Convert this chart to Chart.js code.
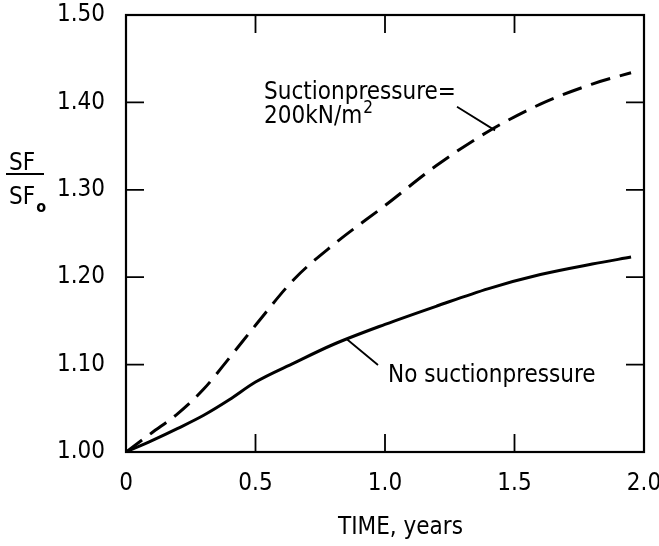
<!DOCTYPE html>
<html>
<head>
<meta charset="utf-8">
<script src="https://cdn.jsdelivr.net/npm/chart.js@4.4.1/dist/chart.umd.min.js"></script>
<style>
  html, body { margin: 0; padding: 0; background: #fff; }
  #wrap { width: 659px; height: 546px; }
</style>
</head>
<body>
<div id="wrap"><canvas id="sfChart"></canvas></div>
<script>
// time in years, and SF/SF0 for the two cases
const years = [0, 0.1, 0.2, 0.3, 0.4, 0.5, 0.65, 0.8, 1.0, 1.2, 1.4, 1.6, 1.8, 1.95];
const withSuction = [1.00, 1.022, 1.044, 1.072, 1.108, 1.145, 1.198, 1.237, 1.282, 1.328, 1.367, 1.398, 1.421, 1.434];
const noSuction = [1.00, 1.013, 1.027, 1.042, 1.060, 1.080, 1.102, 1.123, 1.146, 1.167, 1.187, 1.203, 1.215, 1.223];
const xTicks = [0, 0.5, 1.0, 1.5, 2.0];
const yTicks = [1.00, 1.10, 1.20, 1.30, 1.40, 1.50];

const FONT = "'DejaVu Sans Condensed', 'DejaVu Sans', sans-serif";
const FS = 24;
const pts = (ys) => years.map((t, i) => ({ x: t, y: ys[i] }));

// box, inward ticks, labels and leader lines
const decor = {
    id: 'decor',
    afterDatasetsDraw(chart) {
        const { ctx, chartArea: a, scales: { x, y } } = chart;
        ctx.save();
        ctx.strokeStyle = '#000';
        ctx.lineWidth = 2.2;
        ctx.strokeRect(a.left, a.top, a.right - a.left, a.bottom - a.top);
        ctx.lineWidth = 1.8;
        ctx.beginPath();
        xTicks.slice(1, -1).forEach(v => {
            const px = x.getPixelForValue(v);
            ctx.moveTo(px, a.bottom); ctx.lineTo(px, a.bottom - 18);
            ctx.moveTo(px, a.top); ctx.lineTo(px, a.top + 18);
        });
        yTicks.slice(1, -1).forEach(v => {
            const py = y.getPixelForValue(v);
            ctx.moveTo(a.left, py); ctx.lineTo(a.left + 18, py);
            ctx.moveTo(a.right, py); ctx.lineTo(a.right - 18, py);
        });
        // leader lines
        ctx.moveTo(x.getPixelForValue(1.278), y.getPixelForValue(1.395));
        ctx.lineTo(x.getPixelForValue(1.425), y.getPixelForValue(1.368));
        ctx.moveTo(x.getPixelForValue(0.853), y.getPixelForValue(1.129));
        ctx.lineTo(x.getPixelForValue(0.973), y.getPixelForValue(1.0995));
        ctx.stroke();

        ctx.fillStyle = '#000';
        ctx.textBaseline = 'alphabetic';
        ctx.textAlign = 'left';
        ctx.font = FS + 'px ' + FONT;
        const lx = x.getPixelForValue(0.533);
        ctx.fillText('Suctionpressure=', lx, y.getPixelForValue(1.4037));
        const l2 = y.getPixelForValue(1.3765);
        ctx.fillText('200kN/m', lx, l2);
        const w = ctx.measureText('200kN/m').width;
        ctx.font = '17px ' + FONT;
        ctx.fillText('2', lx + w + 1, l2 - 10);
        ctx.font = FS + 'px ' + FONT;
        ctx.fillText('No suctionpressure', x.getPixelForValue(1.012), y.getPixelForValue(1.080));

        // axis titles
        ctx.fillText('TIME, years', 338, 534);
        ctx.fillText('SF', 9, 170);
        ctx.fillText('SF', 9, 204);
        const sw = ctx.measureText('SF').width;
        ctx.font = 'bold 16px ' + FONT;
        ctx.fillText('o', 10 + sw, 212);
        ctx.lineWidth = 2;
        ctx.beginPath();
        ctx.moveTo(6, 174); ctx.lineTo(44, 174);
        ctx.stroke();
        ctx.restore();
    }
};

new Chart(document.getElementById('sfChart').getContext('2d'), {
    type: 'line',
    data: {
        datasets: [
            { label: 'Suctionpressure = 200kN/m2', data: pts(withSuction), borderColor: '#000', borderWidth: 3, borderDash: [20, 10], pointRadius: 0, fill: false, cubicInterpolationMode: 'monotone' },
            { label: 'No suctionpressure', data: pts(noSuction), borderColor: '#000', borderWidth: 3, pointRadius: 0, fill: false, cubicInterpolationMode: 'monotone' }
        ]
    },
    options: {
        responsive: true,
        maintainAspectRatio: false,
        animation: false,
        layout: { padding: { top: 15, right: 15, left: 0, bottom: 0 } },
        plugins: { legend: { display: false }, tooltip: { enabled: false } },
        scales: {
            x: {
                type: 'linear', min: 0, max: 2,
                afterBuildTicks: s => { s.ticks = xTicks.map(v => ({ value: v })); },
                afterFit: s => { s.height = 94; s.paddingLeft = 0; s.paddingRight = 0; },
                grid: { display: false, drawTicks: false },
                border: { display: false },
                ticks: { color: '#000', padding: 17, font: { family: FONT, size: FS }, callback: v => v === 0 ? '0' : v.toFixed(1) }
            },
            y: {
                min: 1, max: 1.5,
                afterBuildTicks: s => { s.ticks = yTicks.map(v => ({ value: v })); },
                afterFit: s => { s.width = 126; s.paddingTop = 0; s.paddingBottom = 0; },
                grid: { display: false, drawTicks: false },
                border: { display: false },
                ticks: { color: '#000', padding: 21, font: { family: FONT, size: FS }, callback: v => v.toFixed(2) }
            }
        }
    },
    plugins: [decor]
});
</script>
</body>
</html>
